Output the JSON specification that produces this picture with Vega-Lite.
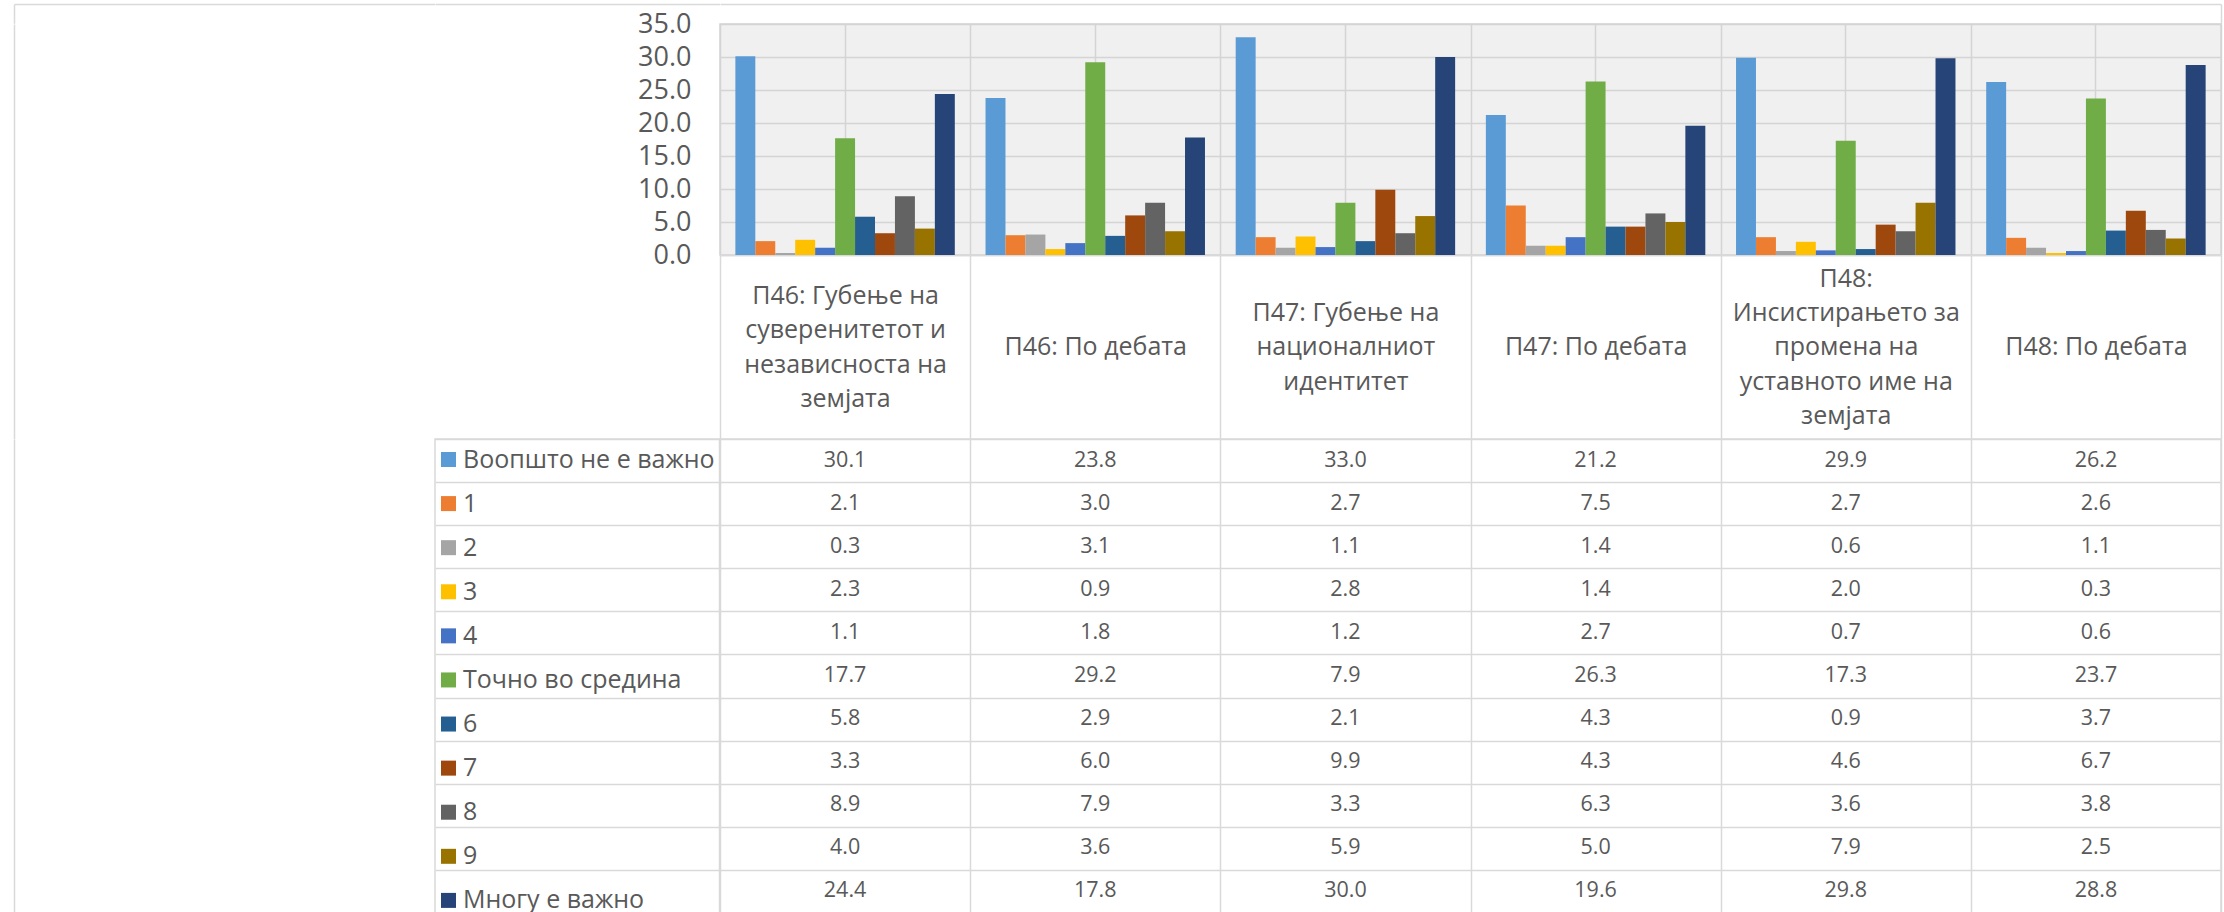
{
  "$schema": "https://vega.github.io/schema/vega-lite/v6.json",
  "padding": {"left": 11, "top": 4, "right": 0, "bottom": 0},
  "background": "#ffffff",
  "bounds": "flush",
  "spacing": 0,
  "columns": 3,
  "datasets": {
    "series": [
      {"series": "Воопшто не е важно"}, {"series": "1"}, {"series": "2"}, {"series": "3"}, {"series": "4"},
      {"series": "Точно во средина"}, {"series": "6"}, {"series": "7"}, {"series": "8"}, {"series": "9"},
      {"series": "Многу е важно"}
    ],
    "bars": [
      {"cat": "П46: Губење на\nсуверенитетот и\nнезависноста на\nземјата", "series": "Воопшто не е важно", "value": 30.1},
      {"cat": "П46: Губење на\nсуверенитетот и\nнезависноста на\nземјата", "series": "1", "value": 2.1},
      {"cat": "П46: Губење на\nсуверенитетот и\nнезависноста на\nземјата", "series": "2", "value": 0.3},
      {"cat": "П46: Губење на\nсуверенитетот и\nнезависноста на\nземјата", "series": "3", "value": 2.3},
      {"cat": "П46: Губење на\nсуверенитетот и\nнезависноста на\nземјата", "series": "4", "value": 1.1},
      {"cat": "П46: Губење на\nсуверенитетот и\nнезависноста на\nземјата", "series": "Точно во средина", "value": 17.7},
      {"cat": "П46: Губење на\nсуверенитетот и\nнезависноста на\nземјата", "series": "6", "value": 5.8},
      {"cat": "П46: Губење на\nсуверенитетот и\nнезависноста на\nземјата", "series": "7", "value": 3.3},
      {"cat": "П46: Губење на\nсуверенитетот и\nнезависноста на\nземјата", "series": "8", "value": 8.9},
      {"cat": "П46: Губење на\nсуверенитетот и\nнезависноста на\nземјата", "series": "9", "value": 4.0},
      {"cat": "П46: Губење на\nсуверенитетот и\nнезависноста на\nземјата", "series": "Многу е важно", "value": 24.4},
      {"cat": "П46: По дебата", "series": "Воопшто не е важно", "value": 23.8},
      {"cat": "П46: По дебата", "series": "1", "value": 3.0},
      {"cat": "П46: По дебата", "series": "2", "value": 3.1},
      {"cat": "П46: По дебата", "series": "3", "value": 0.9},
      {"cat": "П46: По дебата", "series": "4", "value": 1.8},
      {"cat": "П46: По дебата", "series": "Точно во средина", "value": 29.2},
      {"cat": "П46: По дебата", "series": "6", "value": 2.9},
      {"cat": "П46: По дебата", "series": "7", "value": 6.0},
      {"cat": "П46: По дебата", "series": "8", "value": 7.9},
      {"cat": "П46: По дебата", "series": "9", "value": 3.6},
      {"cat": "П46: По дебата", "series": "Многу е важно", "value": 17.8},
      {"cat": "П47: Губење на\nнационалниот\nидентитет", "series": "Воопшто не е важно", "value": 33.0},
      {"cat": "П47: Губење на\nнационалниот\nидентитет", "series": "1", "value": 2.7},
      {"cat": "П47: Губење на\nнационалниот\nидентитет", "series": "2", "value": 1.1},
      {"cat": "П47: Губење на\nнационалниот\nидентитет", "series": "3", "value": 2.8},
      {"cat": "П47: Губење на\nнационалниот\nидентитет", "series": "4", "value": 1.2},
      {"cat": "П47: Губење на\nнационалниот\nидентитет", "series": "Точно во средина", "value": 7.9},
      {"cat": "П47: Губење на\nнационалниот\nидентитет", "series": "6", "value": 2.1},
      {"cat": "П47: Губење на\nнационалниот\nидентитет", "series": "7", "value": 9.9},
      {"cat": "П47: Губење на\nнационалниот\nидентитет", "series": "8", "value": 3.3},
      {"cat": "П47: Губење на\nнационалниот\nидентитет", "series": "9", "value": 5.9},
      {"cat": "П47: Губење на\nнационалниот\nидентитет", "series": "Многу е важно", "value": 30.0},
      {"cat": "П47: По дебата", "series": "Воопшто не е важно", "value": 21.2},
      {"cat": "П47: По дебата", "series": "1", "value": 7.5},
      {"cat": "П47: По дебата", "series": "2", "value": 1.4},
      {"cat": "П47: По дебата", "series": "3", "value": 1.4},
      {"cat": "П47: По дебата", "series": "4", "value": 2.7},
      {"cat": "П47: По дебата", "series": "Точно во средина", "value": 26.3},
      {"cat": "П47: По дебата", "series": "6", "value": 4.3},
      {"cat": "П47: По дебата", "series": "7", "value": 4.3},
      {"cat": "П47: По дебата", "series": "8", "value": 6.3},
      {"cat": "П47: По дебата", "series": "9", "value": 5.0},
      {"cat": "П47: По дебата", "series": "Многу е важно", "value": 19.6},
      {"cat": "П48:\nИнсистирањето за\nпромена на\nуставното име на\nземјата", "series": "Воопшто не е важно", "value": 29.9},
      {"cat": "П48:\nИнсистирањето за\nпромена на\nуставното име на\nземјата", "series": "1", "value": 2.7},
      {"cat": "П48:\nИнсистирањето за\nпромена на\nуставното име на\nземјата", "series": "2", "value": 0.6},
      {"cat": "П48:\nИнсистирањето за\nпромена на\nуставното име на\nземјата", "series": "3", "value": 2.0},
      {"cat": "П48:\nИнсистирањето за\nпромена на\nуставното име на\nземјата", "series": "4", "value": 0.7},
      {"cat": "П48:\nИнсистирањето за\nпромена на\nуставното име на\nземјата", "series": "Точно во средина", "value": 17.3},
      {"cat": "П48:\nИнсистирањето за\nпромена на\nуставното име на\nземјата", "series": "6", "value": 0.9},
      {"cat": "П48:\nИнсистирањето за\nпромена на\nуставното име на\nземјата", "series": "7", "value": 4.6},
      {"cat": "П48:\nИнсистирањето за\nпромена на\nуставното име на\nземјата", "series": "8", "value": 3.6},
      {"cat": "П48:\nИнсистирањето за\nпромена на\nуставното име на\nземјата", "series": "9", "value": 7.9},
      {"cat": "П48:\nИнсистирањето за\nпромена на\nуставното име на\nземјата", "series": "Многу е важно", "value": 29.8},
      {"cat": "П48: По дебата", "series": "Воопшто не е важно", "value": 26.2},
      {"cat": "П48: По дебата", "series": "1", "value": 2.6},
      {"cat": "П48: По дебата", "series": "2", "value": 1.1},
      {"cat": "П48: По дебата", "series": "3", "value": 0.3},
      {"cat": "П48: По дебата", "series": "4", "value": 0.6},
      {"cat": "П48: По дебата", "series": "Точно во средина", "value": 23.7},
      {"cat": "П48: По дебата", "series": "6", "value": 3.7},
      {"cat": "П48: По дебата", "series": "7", "value": 6.7},
      {"cat": "П48: По дебата", "series": "8", "value": 3.8},
      {"cat": "П48: По дебата", "series": "9", "value": 2.5},
      {"cat": "П48: По дебата", "series": "Многу е важно", "value": 28.8}
    ]
  },
  "concat": [
    {
      "width": 420.5, "height": 19.3,
      "data": {"values": [{}]},
      "mark": {"type": "point", "opacity": 0},
      "encoding": {
        "x": {"datum": 0, "type": "quantitative", "scale": {"domain": [0, 1]}, "axis": {"orient": "top", "domain": true, "ticks": false, "labels": false, "grid": false, "title": null}},
        "y": {"datum": 0, "type": "quantitative", "scale": {"domain": [0, 1]}, "axis": {"orient": "left", "domain": true, "ticks": false, "labels": false, "grid": false, "title": null}}
      }
    },
    {
      "width": 284.5, "height": 19.3,
      "data": {"values": [{}]},
      "mark": {"type": "point", "opacity": 0},
      "encoding": {
        "x": {"datum": 0, "type": "quantitative", "scale": {"domain": [0, 1]}, "axis": {"orient": "top", "domain": true, "ticks": false, "labels": false, "grid": false, "title": null}},
        "y": {"datum": 0, "type": "quantitative", "scale": {"domain": [0, 1]}, "axis": null}
      }
    },
    {
      "width": 1501, "height": 19.3,
      "data": {"values": [{}]},
      "mark": {"type": "point", "opacity": 0},
      "encoding": {
        "x": {"datum": 0, "type": "quantitative", "scale": {"domain": [0, 1]}, "axis": {"orient": "top", "domain": true, "ticks": false, "labels": false, "grid": false, "title": null}},
        "y": {"datum": 0, "type": "quantitative", "scale": {"domain": [0, 1]}, "axis": {"orient": "right", "domain": true, "ticks": false, "labels": false, "grid": false, "title": null}}
      }
    },
    {
      "width": 420.5, "height": 414.7,
      "data": {"values": [{}]},
      "mark": {"type": "point", "opacity": 0},
      "encoding": {
        "x": {"datum": 0, "type": "quantitative", "scale": {"domain": [0, 1]}, "axis": null},
        "y": {"datum": 0, "type": "quantitative", "scale": {"domain": [0, 1]}, "axis": {"orient": "left", "domain": true, "ticks": false, "labels": false, "grid": false, "title": null}}
      }
    },
    {
      "width": 284.5, "height": 414.7,
      "data": {"values": [{}]},
      "mark": {"type": "point", "opacity": 0},
      "encoding": {
        "x": {"datum": 0, "type": "quantitative", "scale": {"domain": [0, 1]}, "axis": null},
        "y": {"datum": 0, "type": "quantitative", "scale": {"domain": [0, 1]}, "axis": null}
      }
    },
    {
      "width": 1501, "height": 231,
      "data": {"name": "bars"},
      "view": {"fill": "#f0f0f0", "stroke": "#d4d4d4", "strokeWidth": 1.5},
      "encoding": {
        "y": {"field": "value", "type": "quantitative", "scale": {"domain": [0, 35], "nice": false},
              "axis": {"orient": "left", "values": [0, 5, 10, 15, 20, 25, 30, 35], "format": ".1f", "grid": true, "gridColor": "#d4d4d4", "domain": false, "ticks": false, "tickSize": 0, "labelPadding": 29, "labelFontSize": 27, "labelOverlap": false, "labelFlush": false, "title": null}}
      },
      "layer": [
        {
          "mark": {"type": "point", "opacity": 0},
          "encoding": {
            "x": {"field": "cat", "type": "nominal", "sort": null, "scale": {"paddingInner": 0, "paddingOuter": 0},
                  "axis": {"orient": "top", "grid": true, "gridColor": "#d4d4d4", "domain": false, "ticks": false, "labels": false, "title": null}}
          }
        },
        {
          "mark": {"type": "bar"},
          "encoding": {
            "x": {"field": "cat", "type": "nominal", "sort": null, "scale": {"paddingInner": 0, "paddingOuter": 0},
                  "axis": {"orient": "bottom", "tickBand": "extent", "grid": true, "gridColor": "#d4d4d4", "domain": true, "ticks": true, "tickSize": 183.7,
                           "labels": true,
                           "labelExpr": "split(datum.label, '\\n')",
                           "labelAngle": 0, "labelAlign": "center", "labelBaseline": "middle",
                           "labelPadding": {"condition": [
                             {"test": "length(split(datum.value, '\\n')) == 5", "value": -160.65},
                             {"test": "length(split(datum.value, '\\n')) == 4", "value": -143.45},
                             {"test": "length(split(datum.value, '\\n')) == 3", "value": -126.25}
                           ], "value": -91.85},
                           "labelFontSize": 25, "labelLineHeight": 34.4, "labelLimit": 0, "labelOverlap": false, "title": null}},
            "xOffset": {"field": "series", "type": "nominal", "sort": null, "scale": {"paddingInner": 0, "paddingOuter": 0.77}},
            "color": {"field": "series", "type": "nominal",
                      "scale": {"domain": ["Воопшто не е важно", "1", "2", "3", "4", "Точно во средина", "6", "7", "8", "9", "Многу е важно"],
                                "range": ["#5B9BD5", "#ED7D31", "#A5A5A5", "#FFC000", "#4472C4", "#70AD47", "#255E91", "#9E480E", "#636363", "#997300", "#264478"]},
                      "legend": {"orient": "none", "legendX": 422, "legendY": 443, "title": null, "direction": "vertical", "columns": 1,
                                 "symbolType": "square", "symbolSize": 225, "symbolStrokeWidth": 0, "symbolOpacity": 1,
                                 "labelFontSize": 25, "labelColor": "#595959", "labelOffset": 2, "rowPadding": 18.09, "padding": 0, "labelLimit": 0}}
          }
        }
      ],
      "resolve": {"axis": {"x": "independent"}}
    },
    {
      "width": 420.5, "height": 474,
      "data": {"values": [{}]},
      "mark": {"type": "point", "opacity": 0},
      "encoding": {
        "x": {"datum": 0, "type": "quantitative", "scale": {"domain": [0, 1]}, "axis": null},
        "y": {"datum": 0, "type": "quantitative", "scale": {"domain": [0, 1]}, "axis": {"orient": "left", "domain": true, "ticks": false, "labels": false, "grid": false, "title": null}}
      }
    },
    {
      "width": 284.5, "height": 474,
      "data": {"name": "series"},
      "view": {"stroke": "#d9d9d9", "strokeWidth": 1.5},
      "mark": {"type": "point", "opacity": 0},
      "encoding": {
        "y": {"field": "series", "type": "nominal", "sort": null, "scale": {"paddingInner": 0, "paddingOuter": 0},
              "axis": {"tickBand": "extent", "grid": true, "domain": false, "ticks": false, "labels": false, "title": null}}
      }
    },
    {
      "width": 1501, "height": 474,
      "data": {"name": "bars"},
      "view": {"stroke": "#d9d9d9", "strokeWidth": 1.5},
      "mark": {"type": "text", "fontSize": 21.5, "color": "#595959", "baseline": "middle", "align": "center"},
      "encoding": {
        "x": {"field": "cat", "type": "nominal", "sort": null, "scale": {"paddingInner": 0, "paddingOuter": 0},
              "axis": {"orient": "bottom", "tickBand": "extent", "grid": true, "domain": false, "ticks": false, "labels": false, "title": null}},
        "y": {"field": "series", "type": "nominal", "sort": null, "scale": {"paddingInner": 0, "paddingOuter": 0},
              "axis": {"orient": "left", "tickBand": "extent", "grid": true, "domain": false, "ticks": false, "labels": false, "title": null}},
        "text": {"field": "value", "type": "quantitative", "format": ".1f"}
      }
    }
  ],
  "config": {
    "font": "Open Sans",
    "view": {"stroke": null},
    "axis": {
      "domainColor": "#d9d9d9", "domainWidth": 1.5,
      "gridColor": "#d9d9d9", "gridWidth": 1.5,
      "tickColor": "#d9d9d9", "tickWidth": 1.5,
      "labelColor": "#595959", "labelFont": "Open Sans"
    },
    "legend": {"labelFont": "Open Sans"}
  }
}
